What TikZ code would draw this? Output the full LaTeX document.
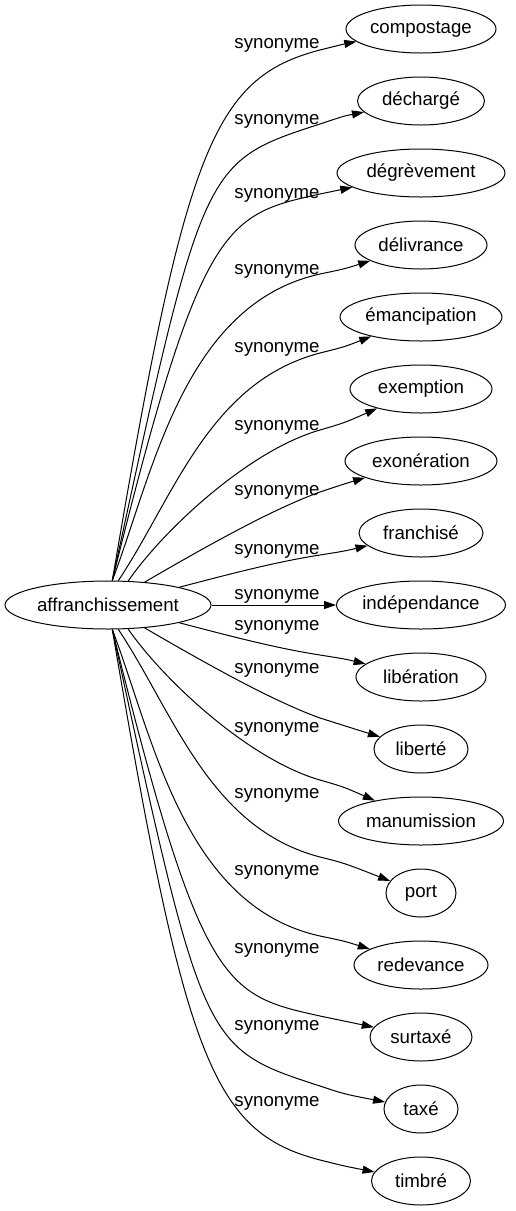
\documentclass[tikz,border=0pt]{standalone}
\usepackage{fontspec}
\setmainfont{Liberation Sans}
\usetikzlibrary{shapes.geometric,arrows.meta}

\begin{document}
\begin{tikzpicture}[x=0.75pt,y=-0.75pt,->,>={Triangle[length=9pt,width=6pt]},line width=0.75pt,node distance=54pt,
  word/.style={draw,ellipse,inner sep=0pt,minimum height=36pt,font=\fontsize{14pt}{16pt}\selectfont},
  syn/.style={anchor=base,font=\fontsize{14pt}{16pt}\selectfont}]
\useasboundingbox (0,0) rectangle (515,1211);

\node[word,minimum width=154.5pt](aff) at (108,605) {affranchissement};
\node[word,minimum width=112.5pt](compostage) at (421,29) {compostage};
\node[word,minimum width=95.25pt](decharge)[below of=compostage]{déchargé};
\node[word,minimum width=126pt](degrevement)[below of=decharge]{dégrèvement};
\node[word,minimum width=99pt](delivrance)[below of=degrevement]{délivrance};
\node[word,minimum width=121.5pt](emancipation)[below of=delivrance]{émancipation};
\node[word,minimum width=106.5pt](exemption)[below of=emancipation]{exemption};
\node[word,minimum width=114pt](exoneration)[below of=exemption]{exonération};
\node[word,minimum width=93pt](franchise)[below of=exoneration]{franchisé};
\node[word,minimum width=126.75pt](independance)[below of=franchise]{indépendance};
\node[word,minimum width=97.5pt](liberation)[below of=independance]{libération};
\node[word,minimum width=70.5pt](liberte)[below of=liberation]{liberté};
\node[word,minimum width=123.75pt](manumission)[below of=liberte]{manumission};
\node[word,minimum width=52.5pt](port)[below of=manumission]{port};
\node[word,minimum width=100.5pt](redevance)[below of=port]{redevance};
\node[word,minimum width=76.5pt](surtaxe)[below of=redevance]{surtaxé};
\node[word,minimum width=55.5pt](taxe)[below of=surtaxe]{taxé};
\node[word,minimum width=74.25pt](timbre)[below of=taxe]{timbré};

% upper edges
\draw (aff.80) .. controls (185,151) and (212,78) .. (320,50) .. controls (344,44) .. (compostage);
\draw (aff.80) .. controls (203,162) .. (320,124) .. controls (344,116) .. (decharge);
\draw (aff.80) .. controls (201,221) and (225,215) .. (320,194) .. controls (344,189) .. (degrevement);
\draw (aff.80) .. controls (153,473) and (184,304) .. (320,274) .. controls (344,269) .. (delivrance);
\draw (aff.67) .. controls (174,497) and (209,382) .. (320,353) .. controls (344,347) .. (emancipation);
\draw (aff.50) .. controls (165,528) and (250,450) .. (320,430) .. controls (344,423) .. (exemption);
\draw (aff.32) .. controls (200,550) and (270,510) .. (320,492) .. controls (344,484) .. (exoneration);
\draw (aff.14) .. controls (230,574) and (275,562) .. (320,555) .. controls (345,551) .. (franchise);
\draw (aff) -- (independance);
% lower edges
\draw (aff.-14) .. controls (230,636) and (275,648) .. (320,655) .. controls (345,659) .. (liberation);
\draw (aff.-32) .. controls (200,660) and (270,700) .. (320,718) .. controls (344,726) .. (liberte);
\draw (aff.-50) .. controls (165,682) and (250,760) .. (320,780) .. controls (344,787) .. (manumission);
\draw (aff.-67) .. controls (174,713) and (209,828) .. (320,857) .. controls (344,863) .. (port);
\draw (aff.-80) .. controls (153,737) and (184,906) .. (320,936) .. controls (344,941) .. (redevance);
\draw (aff.-80) .. controls (201,989) and (225,995) .. (320,1016) .. controls (344,1021) .. (surtaxe);
\draw (aff.-80) .. controls (203,1048) .. (320,1086) .. controls (344,1094) .. (taxe);
\draw (aff.-80) .. controls (185,1059) and (212,1132) .. (320,1160) .. controls (344,1166) .. (timbre);

\node[syn](s1) at (277,48.5) {synonyme};
\node[syn](s2) at (277,124.5) {synonyme};
\node[syn](s3) at (277,198.5) {synonyme};
\node[syn](s4) at (277,274.5) {synonyme};
\node[syn](s5) at (277,352.5) {synonyme};
\node[syn](s6) at (277,430.5) {synonyme};
\node[syn](s7) at (277,495.5) {synonyme};
\node[syn](s8) at (277,554.5) {synonyme};
\node[syn](s9) at (277,599.5) {synonyme};
\node[syn](s10) at (277,630.5) {synonyme};
\node[syn](s11) at (277,673.5) {synonyme};
\node[syn](s12) at (277,732.5) {synonyme};
\node[syn](s13) at (277,798.5) {synonyme};
\node[syn](s14) at (277,875.5) {synonyme};
\node[syn](s15) at (277,953.5) {synonyme};
\node[syn](s16) at (277,1030.5) {synonyme};
\node[syn](s17) at (277,1106.5) {synonyme};
\end{tikzpicture}
\end{document}
